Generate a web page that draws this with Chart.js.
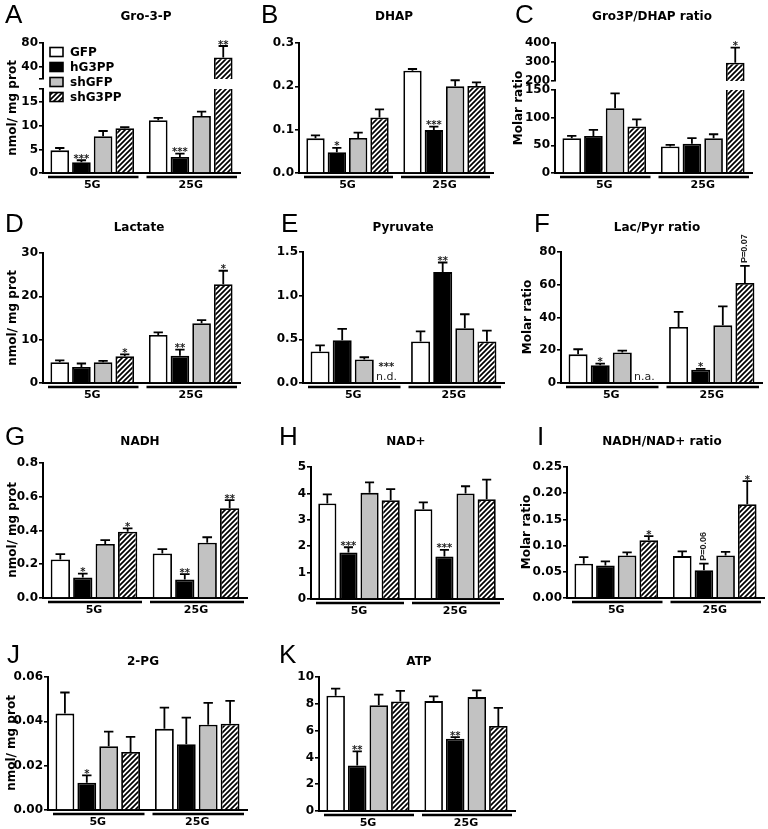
<!DOCTYPE html>
<html><head><meta charset="utf-8">
<script src="https://cdn.jsdelivr.net/npm/chart.js@4"></script>
<style>
html,body{margin:0;padding:0;background:#fff;}
#fig{position:relative;width:768px;height:829px;overflow:hidden;background:#fff;}
#fig canvas{position:absolute;}
</style>
</head><body><div id="fig"></div>
<script>
// ---------------- DATA (rows = series, columns = 5G, 25G) ----------------
const groups = ['5G', '25G'];
const seriesNames = ['GFP', 'hG3PP', 'shGFP', 'shG3PP'];

// A  Gro-3-P
const g3pMean = [[4.8, 11.2], [2.3, 3.4], [7.8, 12.1], [9.5, 56]];
const g3pSem  = [[0.5, 0.5], [0.4, 0.7], [1.1, 0.9], [0.2, 19]];
const g3pSig  = [['', ''], ['***', '***'], ['', ''], ['', '**']];
const g3pTicksLow = [0, 5, 10, 15];
const g3pTicksHigh = [40, 80];

// B  DHAP
const dhapMean = [[0.080, 0.236], [0.048, 0.099], [0.081, 0.200], [0.128, 0.201]];
const dhapSem  = [[0.007, 0.004], [0.010, 0.008], [0.012, 0.014], [0.019, 0.008]];
const dhapSig  = [['', ''], ['*', '***'], ['', ''], ['', '']];
const dhapTicks = [0, 0.1, 0.2, 0.3];

// C  Gro3P/DHAP ratio
const gdMean = [[63, 48], [67, 53], [117, 63], [84, 296]];
const gdSem  = [[4, 3], [11, 10], [27, 7], [13, 80]];
const gdSig  = [['', ''], ['', ''], ['', ''], ['', '*']];
const gdTicksLow = [0, 50, 100, 150];
const gdTicksHigh = [200, 300, 400];

// D  Lactate
const lacMean = [[4.8, 11.1], [3.7, 6.3], [4.8, 13.8], [6.2, 22.8]];
const lacSem  = [[0.4, 0.6], [0.8, 1.4], [0.3, 0.7], [0.4, 3.1]];
const lacSig  = [['', ''], ['', '**'], ['', ''], ['*', '*']];
const lacTicks = [0, 10, 20, 30];

// E  Pyruvate
const pyrMean = [[0.36, 0.475], [0.49, 1.27], [0.27, 0.627], [null, 0.475]];
const pyrSem  = [[0.07, 0.115], [0.13, 0.11], [0.025, 0.16], [null, 0.125]];
const pyrSig  = [['', ''], ['', '**'], ['', ''], ['***', '']];
const pyrNote = [['', ''], ['', ''], ['', ''], ['n.d.', '']];
const pyrTicks = [0, 0.5, 1.0, 1.5];

// F  Lac/Pyr ratio
const lpMean = [[17.5, 34.2], [10.8, 8.1], [18.7, 35.2], [null, 61.1]];
const lpSem  = [[3.1, 9.2], [1.0, 0.5], [1.1, 11.6], [null, 10.4]];
const lpSig  = [['', ''], ['*', '*'], ['', ''], ['', 'P=0.07']];
const lpNote = [['', ''], ['', ''], ['', ''], ['n.a.', '']];
const lpTicks = [0, 20, 40, 60, 80];

// G  NADH
const nadhMean = [[0.228, 0.264], [0.121, 0.109], [0.320, 0.328], [0.393, 0.532]];
const nadhSem  = [[0.032, 0.026], [0.024, 0.032], [0.023, 0.032], [0.020, 0.048]];
const nadhSig  = [['', ''], ['*', '**'], ['', ''], ['*', '**']];
const nadhTicks = [0, 0.2, 0.4, 0.6, 0.8];

// H  NAD+
const nadMean = [[3.62, 3.40], [1.76, 1.61], [4.02, 4.00], [3.74, 3.78]];
const nadSem  = [[0.34, 0.26], [0.20, 0.25], [0.40, 0.27], [0.42, 0.74]];
const nadSig  = [['', ''], ['***', '***'], ['', ''], ['', '']];
const nadTicks = [0, 1, 2, 3, 4, 5];

// I  NADH/NAD+ ratio
const nrMean = [[0.0655, 0.080], [0.062, 0.053], [0.081, 0.081], [0.110, 0.179]];
const nrSem  = [[0.0125, 0.009], [0.008, 0.0125], [0.006, 0.007], [0.008, 0.044]];
const nrSig  = [['', ''], ['', 'P=0.06'], ['', ''], ['*', '*']];
const nrTicks = [0, 0.05, 0.10, 0.15, 0.20, 0.25];

// J  2-PG
const pgMean = [[0.0435, 0.0366], [0.0123, 0.0297], [0.0288, 0.0385], [0.0262, 0.0389]];
const pgSem  = [[0.0095, 0.0096], [0.0033, 0.0120], [0.0066, 0.0098], [0.0068, 0.0103]];
const pgSig  = [['', ''], ['*', ''], ['', ''], ['', '']];
const pgTicks = [0, 0.02, 0.04, 0.06];

// K  ATP
const atpMean = [[8.60, 8.20], [3.40, 5.40], [7.90, 8.50], [8.18, 6.34]];
const atpSem  = [[0.53, 0.36], [1.05, 0.12], [0.78, 0.50], [0.78, 1.36]];
const atpSig  = [['', ''], ['**', '**'], ['', ''], ['', '']];
const atpTicks = [0, 2, 4, 6, 8, 10];

// ---------------- LAYOUT (page coordinates) ----------------
const panels = [
  {letter:['A',5,23], title:['Gro-3-P',146,17], ytitle:['nmol/ mg prot',13,108], legend:[50,52,15],
   cv:[0,0,256,200], area:[43,89,240,173], mean:g3pMean, sem:g3pSem, sig:g3pSig,
   y:{min:0,max:17.8,ticks:g3pTicksLow.concat([17.8]),labels:g3pTicksLow,dec:0},
   up:{area:[43,43,240,79], y:{min:20,max:80,ticks:[20].concat(g3pTicksHigh),labels:g3pTicksHigh,dec:0}}},
  {letter:['B',261,23], title:['DHAP',394,17],
   cv:[256,0,256,200], area:[299,43,493,173], mean:dhapMean, sem:dhapSem, sig:dhapSig,
   y:{min:0,max:0.3,ticks:dhapTicks,labels:dhapTicks,dec:1}},
  {letter:['C',515,23], title:['Gro3P/DHAP ratio',652,17], ytitle:['Molar ratio',519,108],
   cv:[512,0,256,200], area:[555,90,752,173], mean:gdMean, sem:gdSem, sig:gdSig,
   y:{min:0,max:150,ticks:gdTicksLow,labels:gdTicksLow,dec:0},
   up:{area:[555,43,752,81], y:{min:200,max:400,ticks:gdTicksHigh,labels:gdTicksHigh,dec:0}}},
  {letter:['D',5,232], title:['Lactate',139,228], ytitle:['nmol/ mg prot',13,318],
   cv:[0,200,256,210], area:[43,253,240,383], mean:lacMean, sem:lacSem, sig:lacSig,
   y:{min:0,max:30,ticks:lacTicks,labels:lacTicks,dec:0}},
  {letter:['E',281,232], title:['Pyruvate',403,228],
   cv:[256,200,256,210], area:[303,252,504,383], mean:pyrMean, sem:pyrSem, sig:pyrSig, note:pyrNote,
   y:{min:0,max:1.5,ticks:pyrTicks,labels:pyrTicks,dec:1}},
  {letter:['F',534,232], title:['Lac/Pyr ratio',657,228], ytitle:['Molar ratio',528,317],
   cv:[512,200,256,210], area:[561,252,762,383], mean:lpMean, sem:lpSem, sig:lpSig, note:lpNote,
   y:{min:0,max:80,ticks:lpTicks,labels:lpTicks,dec:0}},
  {letter:['G',5,445], title:['NADH',140,442], ytitle:['nmol/ mg prot',13,530],
   cv:[0,410,256,215], area:[43,463,247,598], mean:nadhMean, sem:nadhSem, sig:nadhSig,
   y:{min:0,max:0.8,ticks:nadhTicks,labels:nadhTicks,dec:1}},
  {letter:['H',279,445], title:['NAD+',406,442],
   cv:[256,410,256,215], area:[311,467,503,599], mean:nadMean, sem:nadSem, sig:nadSig,
   y:{min:0,max:5,ticks:nadTicks,labels:nadTicks,dec:0}},
  {letter:['I',537,445], title:['NADH/NAD+ ratio',662,442], ytitle:['Molar ratio',527,532],
   cv:[512,410,256,215], area:[567,467,764,598], mean:nrMean, sem:nrSem, sig:nrSig,
   y:{min:0,max:0.25,ticks:nrTicks,labels:nrTicks,dec:2}},
  {letter:['J',7,663], title:['2-PG',143,662], ytitle:['nmol/ mg prot',12,743],
   cv:[0,625,256,204], area:[48,677,247,810], mean:pgMean, sem:pgSem, sig:pgSig,
   y:{min:0,max:0.06,ticks:pgTicks,labels:pgTicks,dec:2}},
  {letter:['K',279,663], title:['ATP',419,662],
   cv:[256,625,262,204], area:[319,677,515,811], mean:atpMean, sem:atpSem, sig:atpSig,
   y:{min:0,max:10,ticks:atpTicks,labels:atpTicks,dec:0}}
];

const FONT = 'DejaVu Sans';

// ---------------- PLUGINS ----------------
const errPlugin = {
  id: 'errbars',
  afterDatasetsDraw(chart) {
    const {ctx, chartArea: a, scales: {y}} = chart;
    ctx.save();
    ctx.beginPath(); ctx.rect(a.left, a.top - 3, a.right - a.left, a.bottom - a.top + 3); ctx.clip();
    ctx.strokeStyle = '#000'; ctx.lineWidth = 1.8;
    chart.data.datasets.forEach((ds, di) => {
      chart.getDatasetMeta(di).data.forEach((bar, i) => {
        const v = ds.data[i], e = ds.sem[i];
        if (v == null || e == null) return;
        const yv = y.getPixelForValue(v), ye = y.getPixelForValue(v + e);
        const hw = bar.width * 0.25;
        ctx.beginPath();
        ctx.moveTo(bar.x, yv); ctx.lineTo(bar.x, ye);
        ctx.moveTo(bar.x - hw, ye); ctx.lineTo(bar.x + hw, ye);
        ctx.stroke();
      });
    });
    ctx.restore();
  }
};

const sigPlugin = {
  id: 'sig',
  afterDatasetsDraw(chart) {
    const {ctx, scales: {y}} = chart;
    ctx.save();
    chart.data.datasets.forEach((ds, di) => {
      const meta = chart.getDatasetMeta(di);
      ds.data.forEach((v, i) => {
        const txt = ds.sig[i];
        const note = ds.note ? ds.note[i] : '';
        const bx = meta.data[i].x;
        ctx.fillStyle = '#222';
        ctx.textAlign = 'center'; ctx.textBaseline = 'alphabetic';
        if (v == null) {
          if (!note) return;
          const y0 = y.getPixelForValue(0);
          ctx.font = '11px "' + FONT + '"';
          ctx.fillText(note, bx, y0 - 3);
          if (txt) { ctx.font = 'bold 10px "' + FONT + '"'; ctx.fillText(txt, bx, y0 - 13); }
          return;
        }
        if (!txt || v > y.max || v < y.min) return;
        const yt = y.getPixelForValue(v + (ds.sem[i] || 0));
        if (txt.startsWith('P=')) {
          ctx.save();
          ctx.translate(bx, yt - 3);
          ctx.rotate(-Math.PI / 2);
          ctx.textAlign = 'left'; ctx.textBaseline = 'middle';
          ctx.font = 'bold 9px "Liberation Sans"';
          ctx.fillText(txt, 0, 0);
          ctx.restore();
        } else {
          ctx.font = 'bold 10px "' + FONT + '"';
          ctx.fillText(txt, bx, yt + 1.5);
        }
      });
    });
    ctx.restore();
  }
};

const groupPlugin = {
  id: 'grp',
  afterDraw(chart) {
    const x = chart.scales.x;
    if (!x.options.display) return;
    const {ctx} = chart;
    const n = chart.data.labels.length;
    const cw = (x.right - x.left) / n;
    ctx.save();
    ctx.strokeStyle = '#000'; ctx.lineWidth = 2.5;
    for (let i = 0; i < n; i++) {
      const c = x.getPixelForValue(i);
      ctx.beginPath();
      ctx.moveTo(c - cw / 2 + 5, x.top + 4);
      ctx.lineTo(c + cw / 2 - 3, x.top + 4);
      ctx.stroke();
    }
    ctx.restore();
  }
};

function makeDecor(p) {
  return {
    id: 'decor',
    afterDraw(chart) {
      const {ctx} = chart;
      const ox = p.cv[0], oy = p.cv[1];
      ctx.save();
      ctx.fillStyle = '#000';
      ctx.font = '26px "Liberation Sans"';
      ctx.textAlign = 'left'; ctx.textBaseline = 'alphabetic';
      ctx.fillText(p.letter[0], p.letter[1] - ox, p.letter[2] - oy);
      ctx.font = 'bold 12px "' + FONT + '"';
      ctx.textAlign = 'center'; ctx.textBaseline = 'middle';
      ctx.fillText(p.title[0], p.title[1] - ox, p.title[2] - oy);
      if (p.ytitle) {
        ctx.save();
        ctx.translate(p.ytitle[1] - ox, p.ytitle[2] - oy);
        ctx.rotate(-Math.PI / 2);
        ctx.fillText(p.ytitle[0], 0, 0);
        ctx.restore();
      }
      if (p.legend) {
        const [lx, ly, dy] = p.legend;
        chart.data.datasets.forEach((ds, k) => {
          const cy = ly + k * dy - oy;
          ctx.fillStyle = ds.backgroundColor;
          ctx.fillRect(lx - ox, cy - 4.5, 13, 9);
          ctx.strokeStyle = '#000'; ctx.lineWidth = 1.6;
          ctx.strokeRect(lx - ox, cy - 4.5, 13, 9);
          ctx.fillStyle = '#000';
          ctx.textAlign = 'left'; ctx.textBaseline = 'middle';
          ctx.font = 'bold 12px "' + FONT + '"';
          ctx.fillText(ds.label, lx + 20 - ox, cy + 0.5);
        });
      }
      ctx.restore();
    }
  };
}

function hatch(ctx) {
  const s = 5;
  const c = document.createElement('canvas');
  c.width = s; c.height = s;
  const g = c.getContext('2d');
  g.fillStyle = '#fff'; g.fillRect(0, 0, s, s);
  g.strokeStyle = '#000'; g.lineWidth = 1.7;
  g.beginPath();
  g.moveTo(-1, s + 1); g.lineTo(s + 1, -1);
  g.moveTo(-s / 2 - 1, s / 2 + 1); g.lineTo(s / 2 + 1, -s / 2 - 1);
  g.moveTo(s / 2 - 1, s * 1.5 + 1); g.lineTo(s * 1.5 + 1, s / 2 - 1);
  g.stroke();
  return ctx.createPattern(c, 'repeat');
}

const fig = document.getElementById('fig');

function makeChart(p, part) {
  const [cx, cy, cw, ch] = p.cv;
  const isUp = part === 'upper';
  const [l, t, r, b] = isUp ? p.up.area : p.area;
  const yr = isUp ? p.up.y : p.y;
  const canvas = document.createElement('canvas');
  canvas.width = cw; canvas.height = ch;
  canvas.style.left = cx + 'px'; canvas.style.top = cy + 'px';
  fig.appendChild(canvas);
  const ctx = canvas.getContext('2d');
  const fills = ['#ffffff', '#000000', '#c2c2c2', hatch(ctx)];
  const xH = 16;
  const datasets = seriesNames.map((name, s) => ({
    label: name,
    data: p.mean[s].map(v => isUp ? (v != null && v > yr.min ? v : null) : v),
    sem: p.sem[s],
    sig: p.sig[s],
    note: (!isUp && p.note) ? p.note[s] : null,
    backgroundColor: fills[s],
    borderColor: '#000',
    borderWidth: 1.8,
    categoryPercentage: 0.88,
    barPercentage: 0.86,
    clip: 0
  }));
  const plugins = [errPlugin, sigPlugin, groupPlugin];
  if (!isUp) plugins.push(makeDecor(p));
  return new Chart(ctx, {
    type: 'bar',
    data: {labels: groups, datasets},
    options: {
      responsive: false, animation: false, devicePixelRatio: 1, events: [],
      layout: {padding: {left: 0, top: t - cy, right: cx + cw - r,
                         bottom: isUp ? (cy + ch - b) : (cy + ch - b - xH)}},
      plugins: {legend: {display: false}, tooltip: {enabled: false}, title: {display: false}},
      scales: {
        x: {
          display: !isUp,
          grid: {display: false, drawTicks: false},
          border: {display: true, color: '#000', width: 2},
          ticks: {color: '#000', font: {family: FONT, weight: 'bold', size: 11}, padding: 6},
          afterFit: s => { s.height = isUp ? 0 : xH; }
        },
        y: {
          min: yr.min, max: yr.max,
          afterBuildTicks: s => { s.ticks = yr.ticks.map(v => ({value: v})); },
          afterFit: s => { s.width = l - cx; },
          grid: {display: true, drawOnChartArea: false, drawTicks: true, tickLength: 4, color: '#000', lineWidth: 1.6},
          border: {display: true, color: '#000', width: 2},
          ticks: {color: '#000', autoSkip: false, padding: 1,
                  font: {family: FONT, weight: 'bold', size: 12},
                  callback: v => yr.labels.includes(v) ? Number(v).toFixed(yr.dec) : ''}
        }
      }
    },
    plugins
  });
}

panels.forEach(p => {
  if (p.up) makeChart(p, 'upper');
  makeChart(p, 'lower');
});
</script>
</body></html>
